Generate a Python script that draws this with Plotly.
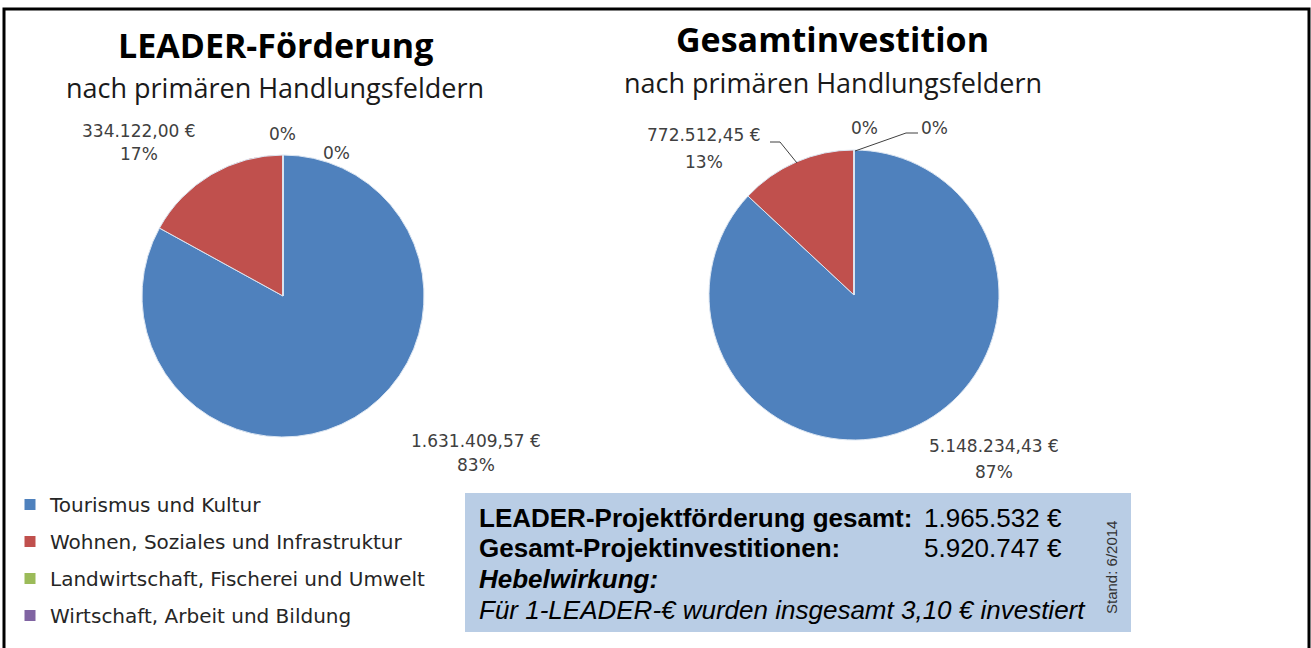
import plotly.graph_objects as go

W, H = 1311, 648

categories = ["Tourismus und Kultur", "Wohnen, Soziales und Infrastruktur",
              "Landwirtschaft, Fischerei und Umwelt", "Wirtschaft, Arbeit und Bildung"]
leader_values = [1631409.57, 334122.00, 0, 0]
gesamt_values = [5148234.43, 772512.45, 0, 0]
colors = ["#4F81BD", "#C0504D", "#9BBB59", "#8064A2"]

titles = ["LEADER-Förderung", "Gesamtinvestition"]
subtitle = "nach primären Handlungsfeldern"

summary_labels = ["LEADER-Projektförderung gesamt:", "Gesamt-Projektinvestitionen:"]
summary_values = ["1.965.532 €", "5.920.747 €"]
hebel_title = "Hebelwirkung:"
hebel_text = "Für 1-LEADER-€ wurden insgesamt 3,10 € investiert"
stand = "Stand: 6/2014"

TITLE_FONT = "Open Sans"
LABEL_FONT = "DejaVu Sans"
LABEL_COLOR = "#404040"
BOX_FONT = "Liberation Sans"


def px(x):
    return x / W


def py(y):
    return 1 - y / H


def de_money(v):
    s = f"{v:,.2f}"
    return s.replace(",", "X").replace(".", ",").replace("X", ".") + " €"


def pct(v, vals):
    return f"{round(100 * v / sum(vals))}%"


def pie_domain(cx, cy, r):
    return dict(x=[px(cx - r), px(cx + r)], y=[py(cy + r), py(cy - r)])


fig = go.Figure()
pies = [(leader_values, 283, 296, 141), (gesamt_values, 854, 295, 145)]
for vals, cx, cy, r in pies:
    fig.add_trace(go.Pie(
        labels=categories, values=vals, sort=False, direction="clockwise",
        rotation=0, textinfo="none", hoverinfo="label+value+percent",
        marker=dict(colors=colors, line=dict(color="#DCE6F2", width=1)),
        domain=pie_domain(cx, cy, r), showlegend=False,
    ))

# legend entries (one per category)
for cat, col in zip(categories, colors):
    fig.add_trace(go.Scatter(
        x=[None], y=[None], mode="markers", name=cat, legendgroup=cat,
        marker=dict(symbol="square", size=11, color=col), showlegend=True,
    ))

ann = []


def add_text(x, y, text, size, family=LABEL_FONT, color=LABEL_COLOR, xanchor="center", **kw):
    ann.append(dict(x=px(x), y=py(y), xref="paper", yref="paper", text=text, showarrow=False,
                    font=dict(family=family, size=size, color=color),
                    xanchor=xanchor, yanchor="middle", **kw))


# titles
for t, cx, ty, sy in [(titles[0], 275, 45, 87), (titles[1], 833, 39, 82)]:
    add_text(cx, ty, f"<b>{t}</b>", 34, family=TITLE_FONT, color="#000000")
    add_text(cx, sy, subtitle, 27, family=TITLE_FONT, color="#1a1a1a")

# pie data labels (text from data arrays): (index, x, y_value_line, y_pct_line)
label_pos = [
    [(0, 476, 441, 465), (1, 139, 131, 154), (2, 282, 134, None), (3, 336, 153, None)],
    [(0, 994, 446, 472), (1, 704, 135, 162), (2, 864, 128, None), (3, 934, 128, None)],
]
for vals, poss in zip([leader_values, gesamt_values], label_pos):
    for idx, x, y1, y2 in poss:
        if vals[idx] > 0:
            lines = [(y1, de_money(vals[idx])), (y2, pct(vals[idx], vals))]
        else:
            lines = [(y1, pct(vals[idx], vals))]
        for y, txt in lines:
            add_text(x, y, txt, 17)

# summary box text
rows = [(518, f"<b>{summary_labels[0]}</b>"),
        (548, f"<b>{summary_labels[1]}</b>"),
        (579, f"<b><i>{hebel_title}</i></b>"),
        (610, f"<i>{hebel_text}</i>")]
for y, t in rows:
    add_text(477, y, t, 26, family=BOX_FONT, color="#000000", xanchor="left")
for y, v in zip([518, 548], summary_values):
    add_text(1064, y, v, 26, family=BOX_FONT, color="#000000", xanchor="right")
add_text(1111, 568, stand, 15, family=BOX_FONT, color="#333333", textangle=-90)

shapes = [
    dict(type="rect", xref="paper", yref="paper", x0=px(465), x1=px(1131), y0=py(632), y1=py(493),
         fillcolor="#B9CDE5", line=dict(width=0), layer="below"),
    dict(type="rect", xref="paper", yref="paper", x0=px(4), x1=px(1309), y0=py(670), y1=py(9),
         fillcolor="rgba(0,0,0,0)", line=dict(color="#000000", width=3)),
    # leader lines of the second pie
    dict(type="path", xref="paper", yref="paper",
         path=f"M {px(770)} {py(142)} L {px(780)} {py(142)} L {px(797)} {py(163)}",
         line=dict(color="#404040", width=1)),
    dict(type="path", xref="paper", yref="paper",
         path=f"M {px(918)} {py(133)} L {px(906)} {py(133)} L {px(855)} {py(151)}",
         line=dict(color="#404040", width=1)),
]

fig.update_layout(
    width=W, height=H, margin=dict(l=0, r=0, t=0, b=0),
    paper_bgcolor="#FFFFFF", plot_bgcolor="#FFFFFF",
    xaxis=dict(visible=False), yaxis=dict(visible=False),
    annotations=ann, shapes=shapes,
    legend=dict(x=px(10), y=py(485), xanchor="left", yanchor="top",
                font=dict(family=LABEL_FONT, size=20, color="#262626"),
                bgcolor="rgba(0,0,0,0)", itemclick=False, tracegroupgap=8,
                traceorder="grouped"),
)

fig.write_html("out.html", config={"displayModeBar": False},
               post_script="document.body.style.margin='0px';document.body.style.overflow='hidden';")
